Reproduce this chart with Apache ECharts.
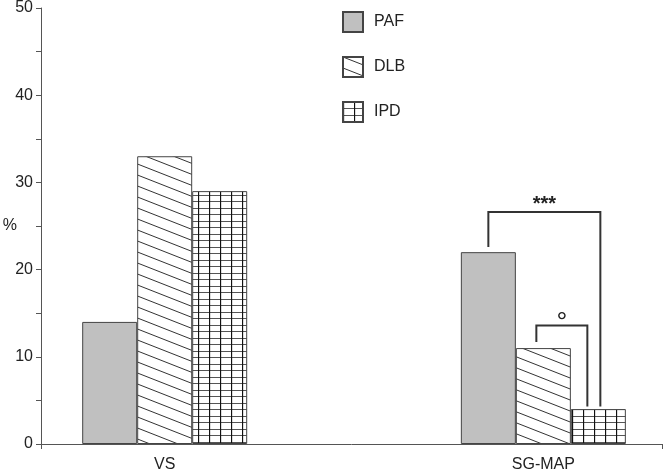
<!DOCTYPE html>
<html>
<head>
<meta charset="utf-8">
<script src="https://cdn.jsdelivr.net/npm/echarts@6/dist/echarts.min.js"></script>
<style>
  html, body { margin: 0; padding: 0; background: #fff; }
  #chart { width: 666px; height: 473px; }
</style>
</head>
<body>
<div id="chart"></div>
<script>
// data
const categories = ['VS', 'SG-MAP'];
const catPos = [1, 4];
const groups = ['PAF', 'DLB', 'IPD'];
const paf = [14, 22];
const dlb = [33, 11];
const ipd = [29, 4];
const yTicks = [0, 10, 20, 30, 40, 50];

// significance brackets in the SG-MAP group (value units)
const brackets = [
  { text: '***', from: 0, to: 2, top: 26.6, fromEnd: 22.6, toEnd: 4.3, dxFrom: 0, dxTo: 2, font: 'bold 20px', dy: 2 },
  { text: '°', from: 1, to: 2, top: 13.6, fromEnd: 11.7, toEnd: 4.3, dxFrom: -7, dxTo: -11, font: '27px', dy: 12 }
];

const BAR_W = 55;
const INK = '#222';

function hatchPattern() {
  const c = document.createElement('canvas');
  c.width = 28; c.height = 11;
  const ctx = c.getContext('2d');
  ctx.fillStyle = '#fff';
  ctx.fillRect(0, 0, 28, 11);
  ctx.strokeStyle = '#333';
  ctx.lineWidth = 1;
  [-11, 0, 11].forEach(function (y0) {
    ctx.beginPath();
    ctx.moveTo(0, y0);
    ctx.lineTo(28, y0 + 11);
    ctx.stroke();
  });
  return c;
}

function gridPattern() {
  const c = document.createElement('canvas');
  c.width = 11; c.height = 13;
  const ctx = c.getContext('2d');
  ctx.fillStyle = '#fff';
  ctx.fillRect(0, 0, 11, 13);
  ctx.strokeStyle = '#555';
  ctx.lineWidth = 1;
  [0.5, 6.5].forEach(function (y) {
    ctx.beginPath();
    ctx.moveTo(0, y);
    ctx.lineTo(11, y);
    ctx.stroke();
  });
  ctx.strokeStyle = '#111';
  ctx.lineWidth = 1.3;
  ctx.beginPath();
  ctx.moveTo(0.5, 0);
  ctx.lineTo(0.5, 13);
  ctx.stroke();
  return c;
}

const fills = [
  '#c0c0c0',
  { image: hatchPattern(), repeat: 'repeat' },
  { image: gridPattern(), repeat: 'repeat' }
];
const values = [paf, dlb, ipd];

const X_MIN = 0.02;
const X_MAX = 4.94;

const chart = echarts.init(document.getElementById('chart'));

chart.setOption({
  animation: false,
  textStyle: { fontFamily: 'Liberation Sans, Arial, sans-serif' },
  grid: { left: 41, right: 4, top: 8, bottom: 29, outerBoundsMode: 'none', containLabel: false },
  legend: {
    data: groups,
    orient: 'vertical',
    left: 342,
    top: 11,
    padding: 0,
    itemWidth: 20,
    itemHeight: 20,
    itemGap: 23,
    icon: 'rect',
    selectedMode: false,
    textStyle: { fontSize: 16, color: INK, padding: [0, 0, 0, 6] }
  },
  xAxis: {
    type: 'value',
    min: X_MIN,
    max: X_MAX,
    splitLine: { show: false },
    axisLine: { lineStyle: { color: '#555', width: 1 } },
    axisTick: { show: true, customValues: [X_MIN, X_MAX], length: 5, lineStyle: { color: '#555' } },
    axisLabel: {
      customValues: catPos,
      formatter: function (v) { return categories[catPos.indexOf(v)] || ''; },
      fontSize: 16,
      color: INK,
      margin: 13
    }
  },
  yAxis: {
    type: 'value',
    min: yTicks[0],
    max: yTicks[yTicks.length - 1],
    interval: 10,
    name: '%',
    nameLocation: 'middle',
    nameRotate: 0,
    nameGap: 24,
    nameMoveOverlap: false,
    nameTextStyle: { fontSize: 16, color: INK },
    splitLine: { show: false },
    axisLine: { show: true, lineStyle: { color: '#555', width: 1 } },
    axisTick: { show: true, length: 5, lineStyle: { color: '#555' } },
    minorTick: { show: true, splitNumber: 2, length: 5, lineStyle: { color: '#555' } },
    axisLabel: { fontSize: 16, color: INK, margin: 8 }
  },
  series: groups.map(function (name, i) {
    return {
      name: name,
      type: 'bar',
      barWidth: BAR_W,
      barGap: '0%',
      data: catPos.map(function (x, j) { return [x, values[i][j]]; }),
      itemStyle: { color: fills[i], borderColor: '#444', borderWidth: 1 },
      emphasis: { disabled: true }
    };
  })
});

// brackets drawn on top, placed through the chart's own scales
const sgPx = chart.convertToPixel({ xAxisIndex: 0 }, catPos[1]);
const elements = [];
brackets.forEach(function (b) {
  const xa = sgPx + (b.from - 1) * BAR_W + b.dxFrom;
  const xb = sgPx + (b.to - 1) * BAR_W + b.dxTo;
  const yTop = chart.convertToPixel({ yAxisIndex: 0 }, b.top);
  const yA = chart.convertToPixel({ yAxisIndex: 0 }, b.fromEnd);
  const yB = chart.convertToPixel({ yAxisIndex: 0 }, b.toEnd);
  elements.push({
    type: 'polyline',
    shape: { points: [[xa, yA], [xa, yTop], [xb, yTop], [xb, yB]] },
    style: { stroke: '#333', lineWidth: 2, fill: null },
    z: 10
  });
  elements.push({
    type: 'text',
    x: (xa + xb) / 2,
    y: yTop + b.dy,
    style: {
      text: b.text,
      fill: INK,
      font: b.font + ' Liberation Sans, Arial',
      align: 'center',
      verticalAlign: 'bottom'
    },
    z: 10
  });
});
chart.setOption({ graphic: elements });
</script>
</body>
</html>
